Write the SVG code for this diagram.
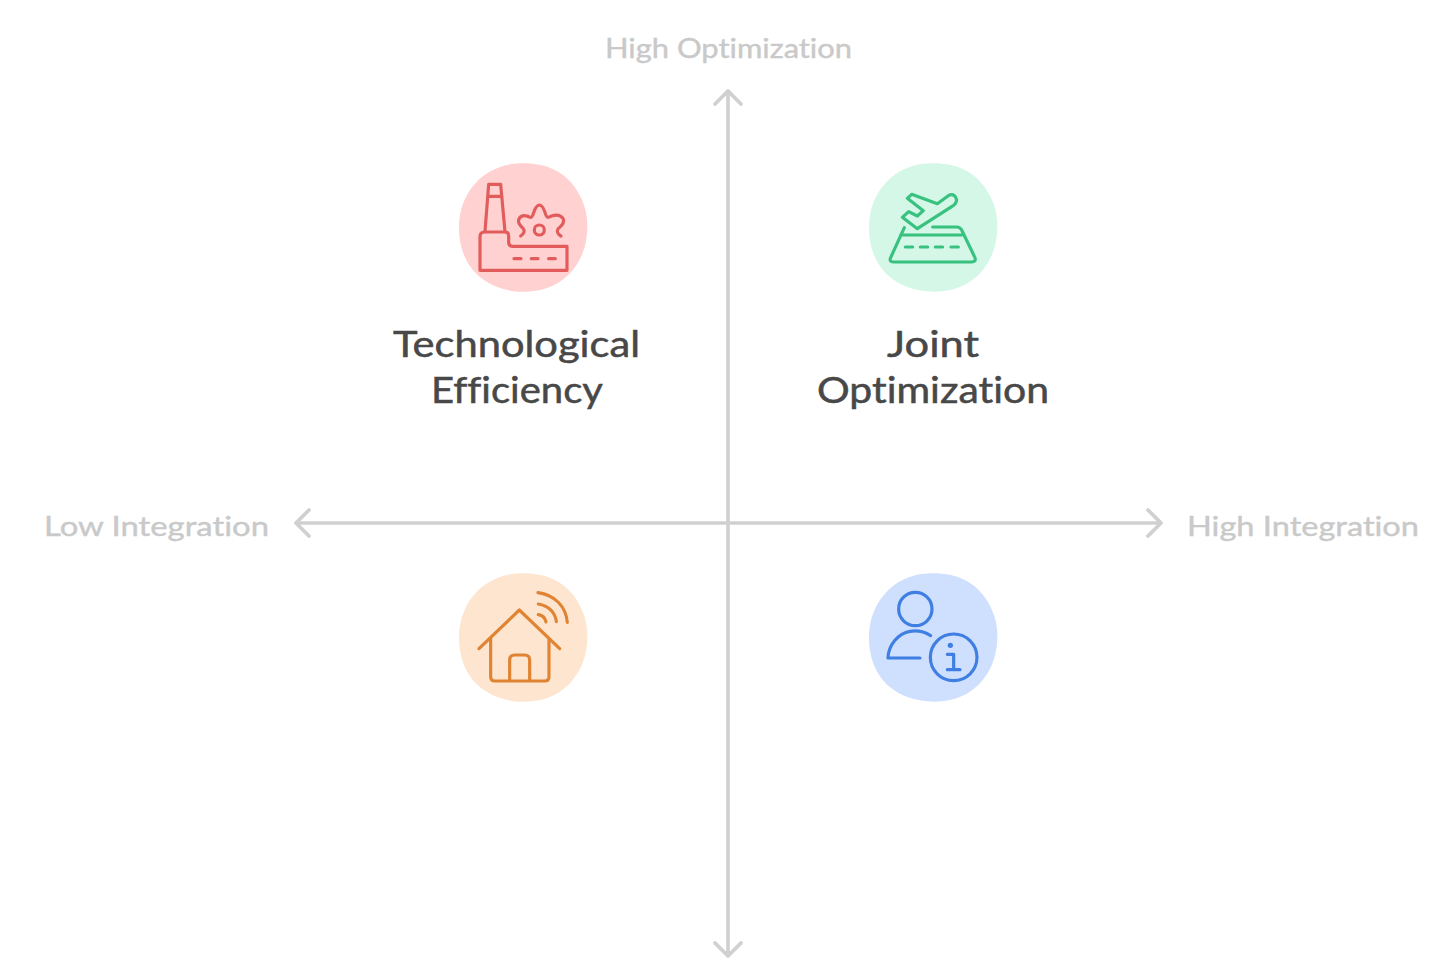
<svg xmlns="http://www.w3.org/2000/svg" width="1456" height="980" viewBox="0 0 1456 980">
<style>
.t{font-family:"Lato","Open Sans",sans-serif;font-size:36px;fill:#484848;stroke:#484848;stroke-width:.5;text-anchor:start;font-variant-ligatures:none}
.a{font-family:"Lato","Open Sans",sans-serif;font-size:27px;fill:#c9c9c9;stroke:#c9c9c9;stroke-width:.4;text-anchor:start;font-variant-ligatures:none}
.i{fill:none;stroke-width:9.5;stroke-linecap:round;stroke-linejoin:round}
.ax{fill:none;stroke:#d0d0d0;stroke-width:3.6;marker-start:url(#arrow);marker-end:url(#arrow)}
</style>
<defs>
<marker id="arrow" markerUnits="userSpaceOnUse" viewBox="-16 -16 20 32" refX="0" refY="0" markerWidth="20" markerHeight="32" orient="auto-start-reverse">
<path d="M-13-13L0 0L-13 13" fill="none" stroke="#d0d0d0" stroke-width="3.8" stroke-linecap="round" stroke-linejoin="round"/>
</marker>
<path id="blob" d="M220 25C290 25 345 50 380 105C405 145 413 180 412 220C411 270 395 320 355 360C315 398 270 410 220 410C170 410 120 395 80 358C45 322 27 275 27 218C27 165 45 115 85 75C125 38 170 25 220 25Z"/>
</defs>
<rect width="1456" height="980" fill="#ffffff"/>
<g id="connectors">
<path class="ax" d="M728 91V956"/>
<path class="ax" d="M296 523H1161"/>
</g>
<g id="axis-top"><text class="a" x="605" y="58" textLength="247" lengthAdjust="spacingAndGlyphs">High Optimization</text></g>
<g id="axis-left"><text class="a" x="44" y="536" textLength="225" lengthAdjust="spacingAndGlyphs">Low Integration</text></g>
<g id="axis-right"><text class="a" x="1187" y="536" textLength="232" lengthAdjust="spacingAndGlyphs">High Integration</text></g>
<g id="technological-efficiency">
<g transform="translate(450 155) scale(.3333)">
<use href="#blob" fill="#ffd1d1"/>
<g class="i" stroke="#e25c5c">
<path d="M116 88H152L165 230M116 88L105 230M118 124H156"/>
<path d="M90 346V245Q90 231 104 231H165Q176 231 176 242V262Q176 274 188 274H351V346Z"/>
<path d="M192 311H213M244 311H264M296 311H316"/>
<path d="M212 243C222 236 226 228 219 220C210 212 203 205 206 194C212 178 228 180 241 187C252 190 250 152 268 150C286 150 284 190 295 187C310 180 330 176 340 192C345 206 332 214 324 222C319 230 324 238 333 243"/>
<circle cx="268" cy="225" r="15"/>
</g>
</g>
<text class="t" x="393" y="357" textLength="247" lengthAdjust="spacingAndGlyphs">Technological</text>
<text class="t" x="431" y="403" textLength="172" lengthAdjust="spacingAndGlyphs">Efficiency</text>
</g>
<g id="joint-optimization">
<g transform="translate(860 155) scale(.3333)">
<use href="#blob" fill="#d5f7e7"/>
<g class="i" stroke="#37c27f">
<path d="M142 130L155 118L232 146L268 120Q285 115 290 135Q288 148 275 155L172 221L127 187L146 170L172 183L190 167Z"/>
<path d="M133 218L91 310Q88 321 100 321H335Q349 321 345 308L305 225Q300 216 290 216H218M122 240H305"/>
<path d="M136 276H158M181 276H203M226 276H248M273 276H295"/>
</g>
</g>
<text class="t" x="887" y="357" textLength="92" lengthAdjust="spacingAndGlyphs">Joint</text>
<text class="t" x="817" y="403" textLength="232" lengthAdjust="spacingAndGlyphs">Optimization</text>
</g>
<g id="smart-home">
<g transform="translate(450 565) scale(.3333)">
<use href="#blob" fill="#fde5d0"/>
<g class="i" stroke="#e08433">
<path d="M87 251L208 135L329 251"/>
<path d="M122 220V335Q122 348 135 348H284Q297 348 297 335V220"/>
<path d="M179 345V285Q179 270 194 270H224Q239 270 239 285V345"/>
<path d="M264 83C315 90 348 125 352 172M265 117C295 122 316 142 319 170M265 149C277 151 286 160 288 171"/>
</g>
</g>
</g>
<g id="user-info">
<g transform="translate(860 565) scale(.3333)">
<use href="#blob" fill="#cfdffe"/>
<g class="i" stroke="#3f7fe3">
<circle cx="166" cy="132" r="50"/>
<path d="M212 212C190 198 170 196 150 199C115 205 85 240 84 279H180"/>
<circle cx="281" cy="277" r="70"/>
<path d="M262 268H281V314M262 314H300"/>
</g>
<circle cx="271" cy="241" r="8" fill="#3f7fe3"/>
</g>
</g>
</svg>
